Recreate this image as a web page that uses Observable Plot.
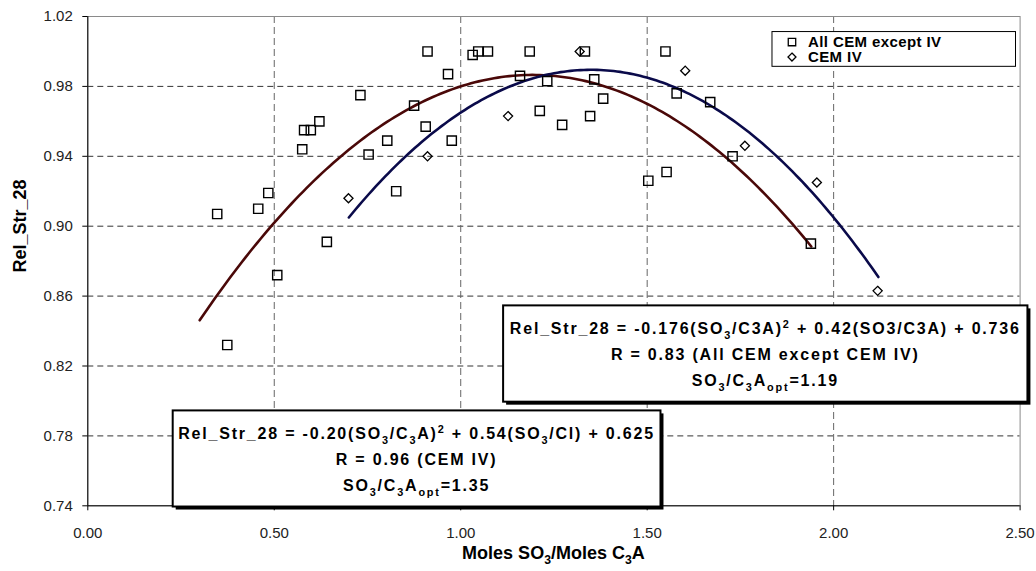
<!DOCTYPE html>
<html>
<head>
<meta charset="utf-8">
<script src="https://cdn.jsdelivr.net/npm/d3@7"></script>
<script src="https://cdn.jsdelivr.net/npm/@observablehq/plot@0.6"></script>
<style>
  html, body { margin: 0; padding: 0; background: #fff; }
  #chart svg { display: block; }
</style>
</head>
<body>
<div id="chart"></div>
<script>
// ---------- data ----------
const allCemX = [0.347, 0.374, 0.457, 0.484, 0.508, 0.575, 0.580, 0.598, 0.621, 0.641,
                 0.731, 0.753, 0.803, 0.827, 0.875, 0.906, 0.911, 0.966, 0.976, 1.032,
                 1.047, 1.073, 1.185, 1.159, 1.232, 1.212, 1.272, 1.333, 1.358, 1.347,
                 1.382, 1.503, 1.552, 1.549, 1.579, 1.669, 1.729, 1.939];
const allCemY = [0.907, 0.832, 0.910, 0.919, 0.872, 0.944, 0.955, 0.955, 0.960, 0.891,
                 0.975, 0.941, 0.949, 0.920, 0.969, 0.957, 1.000, 0.987, 0.949, 0.998,
                 1.000, 1.000, 1.000, 0.986, 0.983, 0.966, 0.958, 1.000, 0.984, 0.963,
                 0.973, 0.926, 0.931, 1.000, 0.976, 0.971, 0.940, 0.890];
const cemIVX = [0.699, 0.911, 1.127, 1.319, 1.602, 1.762, 1.955, 2.118];
const cemIVY = [0.916, 0.940, 0.963, 1.000, 0.989, 0.946, 0.925, 0.863];

// trendline coefficients [a, b, c] (from the chart's equations) and drawn x-range
const fitAllCoef = [-0.176, 0.42, 0.736];
const fitAllRange = [0.30, 1.94];
const fitIVCoef = [-0.20, 0.54, 0.625];
const fitIVRange = [0.70, 2.12];

const xTicks = [0, 0.5, 1.0, 1.5, 2.0, 2.5];
const yTicks = [0.74, 0.78, 0.82, 0.86, 0.90, 0.94, 0.98, 1.02];
const seriesNames = ["All CEM except IV", "CEM IV"];
const xTitle = "Moles SO_{3}/Moles C_{3}A";
const yTitle = "Rel_Str_28";
const boxIVLines = ["Rel_Str_28 = -0.20(SO_{3}/C_{3}A)^{2} + 0.54(SO_{3}/Cl) + 0.625",
                    "R = 0.96 (CEM IV)",
                    "SO_{3}/C_{3}A_{opt}=1.35"];
const boxAllLines = ["Rel_Str_28 = -0.176(SO_{3}/C3A)^{2} + 0.42(SO3/C3A) + 0.736",
                     "R = 0.83 (All CEM except CEM IV)",
                     "SO_{3}/C_{3}A_{opt}=1.19"];

// ---------- layout (annotation placement, in data units) ----------
const boxIV = {x1: 0.229, x2: 1.537, y1: 0.7393, y2: 0.7943};
const boxAll = {x1: 1.115, x2: 2.521, y1: 0.7993, y2: 0.8544};
const legendBox = {x1: 1.836, x2: 2.489, y1: 0.9912, y2: 1.0111};

const FONT = '"Liberation Sans", Arial, Helvetica, sans-serif';
const CURVE_ALL = "#4a0808";
const CURVE_IV = "#0a0a4a";

const allPts = allCemX.map((x, i) => ({x, y: allCemY[i]}));
const ivPts = cemIVX.map((x, i) => ({x, y: cemIVY[i]}));
function quadPoints(coef, range, n = 160) {
  return d3.range(n + 1).map(i => {
    const x = range[0] + (range[1] - range[0]) * i / n;
    return {x, y: coef[0] * x * x + coef[1] * x + coef[2]};
  });
}
const curveAll = quadPoints(fitAllCoef, fitAllRange);
const curveIV = quadPoints(fitIVCoef, fitIVRange);

// rich text: _{..} subscript, ^{..} superscript
function appendRich(textSel, str, fontSize) {
  const parts = str.split(/(_\{[^}]*\}|\^\{[^}]*\})/).filter(s => s.length);
  let shift = 0;
  for (const p of parts) {
    let content = p, size = null, target = 0;
    if (p.startsWith("_{")) { content = p.slice(2, -1); size = fontSize * 0.68; target = fontSize * 0.28; }
    else if (p.startsWith("^{")) { content = p.slice(2, -1); size = fontSize * 0.68; target = -fontSize * 0.42; }
    const ts = textSel.append("tspan").text(content);
    if (size) ts.attr("font-size", size);
    const dy = target - shift;
    if (dy) ts.attr("dy", dy);
    shift = target;
  }
}

function equationBox(box, lines) {
  return (index, scales) => {
    const x1 = scales.x(box.x1), x2 = scales.x(box.x2);
    const top = scales.y(box.y2), bottom = scales.y(box.y1);
    const g = d3.create("svg:g");
    g.append("rect").attr("x", x1 + 3).attr("y", top + 3)
      .attr("width", x2 - x1).attr("height", bottom - top).attr("fill", "#000");
    g.append("rect").attr("x", x1).attr("y", top)
      .attr("width", x2 - x1).attr("height", bottom - top)
      .attr("fill", "#fff").attr("stroke", "#000").attr("stroke-width", 2);
    lines.forEach((ln, i) => {
      const t = g.append("text")
        .attr("x", (x1 + x2) / 2).attr("y", top + 29 + 26 * i)
        .attr("text-anchor", "middle")
        .attr("font-family", FONT).attr("font-weight", "bold")
        .attr("font-size", 16).attr("letter-spacing", 1.8).attr("fill", "#000");
      appendRich(t, ln, 16);
    });
    return g.node();
  };
}

function legendMark(index, scales) {
  const x1 = scales.x(legendBox.x1), x2 = scales.x(legendBox.x2);
  const top = scales.y(legendBox.y2), bottom = scales.y(legendBox.y1);
  const g = d3.create("svg:g");
  g.append("rect").attr("x", x1).attr("y", top).attr("width", x2 - x1).attr("height", bottom - top)
    .attr("fill", "#fff").attr("stroke", "#000").attr("stroke-width", 1);
  const symbols = [d3.symbolSquare, d3.symbolDiamond2];
  const rs = [4.2, 3.6];
  seriesNames.forEach((name, i) => {
    const cy = top + 10.5 + 15 * i;
    g.append("path")
      .attr("transform", `translate(${x1 + 20},${cy})`)
      .attr("d", d3.symbol(symbols[i], rs[i] * rs[i] * Math.PI)())
      .attr("fill", "none").attr("stroke", "#000").attr("stroke-width", 1.3);
    g.append("text").attr("x", x1 + 36).attr("y", cy + 5.2)
      .attr("text-anchor", "start")
      .attr("font-family", FONT).attr("font-weight", "bold").attr("font-size", 15)
      .attr("letter-spacing", 0.4)
      .attr("fill", "#000").text(name);
  });
  return g.node();
}

function axisTitles(index, scales, values, dims) {
  const g = d3.create("svg:g");
  const cx = (dims.marginLeft + dims.width - dims.marginRight) / 2;
  const tx = g.append("text").attr("x", cx).attr("y", 559)
    .attr("text-anchor", "middle").attr("font-family", FONT)
    .attr("font-weight", "bold").attr("font-size", 18).attr("fill", "#000");
  appendRich(tx, xTitle, 18);
  g.append("text").attr("transform", "translate(26,226) rotate(-90)")
    .attr("text-anchor", "middle").attr("font-family", FONT)
    .attr("font-weight", "bold").attr("font-size", 18).attr("fill", "#000")
    .text(yTitle);
  return g.node();
}

const fmt = d3.format(".2f");

const chart = Plot.plot({
  width: 1036,
  height: 571,
  marginLeft: 87.3,
  marginRight: 16.4,
  marginTop: 16,
  marginBottom: 65.7,
  style: {fontFamily: FONT, fontSize: "15px", background: "#fff", color: "#000"},
  x: {domain: [0, 2.5]},
  y: {domain: [0.74, 1.02]},
  marks: [
    Plot.ruleY(yTicks.slice(1, -1), {stroke: "#333", strokeWidth: 1, strokeDasharray: "6,4"}),
    Plot.ruleX(xTicks.slice(1, -1), {stroke: "#666", strokeWidth: 1, strokeDasharray: "7,4"}),
    Plot.frame({stroke: "#8a8a8a", strokeWidth: 1}),
    Plot.axisX({ticks: xTicks, tickFormat: fmt, tickSize: 5, tickPadding: 17, label: null, fill: "#222"}),
    Plot.axisY({ticks: yTicks, tickFormat: fmt, tickSize: 5, tickPadding: 10, label: null, fill: "#222"}),
    Plot.ruleX([0], {stroke: "#000", strokeWidth: 1}),
    Plot.ruleY([0.74], {stroke: "#000", strokeWidth: 1}),
    Plot.line(curveAll, {x: "x", y: "y", stroke: CURVE_ALL, strokeWidth: 2.6}),
    Plot.line(curveIV, {x: "x", y: "y", stroke: CURVE_IV, strokeWidth: 2.6}),
    Plot.dot(allPts, {x: "x", y: "y", symbol: "square", r: 5.2, stroke: "#000", strokeWidth: 1.4, fill: "none"}),
    Plot.dot(ivPts, {x: "x", y: "y", symbol: "diamond2", r: 4.1, stroke: "#000", strokeWidth: 1.3, fill: "none"}),
    equationBox(boxIV, boxIVLines),
    equationBox(boxAll, boxAllLines),
    legendMark,
    axisTitles
  ]
});

document.getElementById("chart").appendChild(chart);
</script>
</body>
</html>
